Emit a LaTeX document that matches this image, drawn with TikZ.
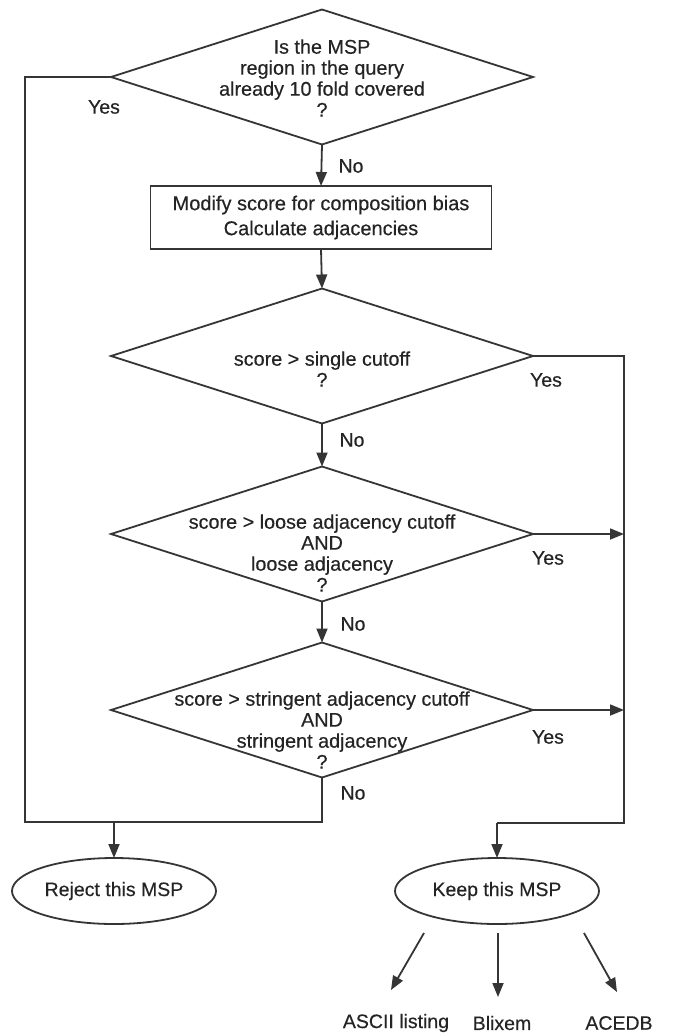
\documentclass[tikz,border=0pt]{standalone}
\usepackage{fontspec}
\setmainfont{Liberation Sans}
\newfontfamily\hvfont{Liberation Sans}[FakeBold=0.35]
\usetikzlibrary{shapes.geometric,arrows.meta}
\definecolor{ink}{HTML}{353535}
\definecolor{txtc}{HTML}{242424}
\begin{document}
\begin{tikzpicture}[x=1pt,y=-1pt,
  every node/.style={inner sep=0pt,outer sep=0pt},
  txt/.style={text=txtc,align=center,font=\hvfont\fontsize{19.8}{21}\selectfont},
  lbl/.style={text=txtc,font=\hvfont\fontsize{19.5}{21}\selectfont},
  dia/.style={draw=ink,line width=1.8pt,shape=diamond,minimum width=422pt,minimum height=135pt},
  boxst/.style={draw=ink,line width=1.8pt,rectangle,minimum width=341pt,minimum height=63pt,text=txtc,align=center,font=\hvfont\fontsize{20}{25}\selectfont},
  ell/.style={draw=ink,line width=1.8pt,ellipse,minimum width=204pt,minimum height=66pt,text=txtc,font=\hvfont\fontsize{19.5}{21}\selectfont},
  ln/.style={draw=ink,line width=1.8pt},
  arr/.style={draw=ink,line width=1.8pt,-{Triangle[length=14pt,width=11pt]}}]
\useasboundingbox (0,0) rectangle (672,1036);

% decisions
\node[dia] (d1) at (322,77) {};
\node[txt] (d1t) at (322,78) {Is the MSP\\region in the query\\already 10 fold covered\\?};
\node[boxst] (box) at (321,217.5) {Modify score for composition bias\\Calculate adjacencies};
\node[dia] (d2) at (322,356) {};
\node[txt] (d2t) at (322,369) {score > single cutoff\\?};
\node[dia] (d3) at (322,534) {};
\node[txt] (d3t) at (322,553) {score > loose adjacency cutoff\\AND\\loose adjacency\\?};
\node[dia] (d4) at (322,710) {};
\node[txt] (d4t) at (322,730) {score > stringent adjacency cutoff\\AND\\stringent adjacency\\?};

% terminals
\node[ell] (rej) at (114,891) {Reject this MSP};
\node[ell] (keep) at (497,891) {Keep this MSP};
\node[lbl] (ascii) at (396,1023) {ASCII listing};
\node[lbl] (blix) at (502,1023) {Blixem};
\node[lbl] (acedb) at (619,1023) {ACEDB};

% branch labels
\node[lbl] (y1) at (104,107) {Yes};
\node[lbl] (n1) at (351,166) {No};
\node[lbl] (y2) at (546,380) {Yes};
\node[lbl] (n2) at (352,440) {No};
\node[lbl] (y3) at (548,558) {Yes};
\node[lbl] (n3) at (353,624) {No};
\node[lbl] (y4) at (548,737) {Yes};
\node[lbl] (n4) at (353,793) {No};

% routing coordinates
\coordinate (lt) at (25,77);
\coordinate (lb) at (25,822);
\coordinate (rt) at (624,356);
\coordinate (rb) at (624,823);
\coordinate (rj) at (114,822);
\coordinate (kp) at (497,823);
\coordinate (a1s) at (424,933);
\coordinate (a1e) at (391,990);
\coordinate (a2s) at (498,933);
\coordinate (a2e) at (498,997);
\coordinate (a3s) at (584,933);
\coordinate (a3e) at (617,992);

% connectors
\draw[arr] (d1.south) -- (box.north);
\draw[arr] (box.south) -- (d2.north);
\draw[arr] (d2.south) -- (d3.north);
\draw[arr] (d3.south) -- (d4.north);

\draw[ln] (d1.west) -- (lt) -- (lb) -- (d4.south |- lb) -- (d4.south);
\draw[arr] (rj) -- (rej.north);

\draw[ln] (d2.east) -- (rt) -- (rb) -- (kp);
\draw[arr] (d3.east) -- (d3.east -| rt);
\draw[arr] (d4.east) -- (d4.east -| rt);
\draw[arr] (kp) -- (keep.north);

\draw[arr] (a1s) -- (a1e);
\draw[arr] (a2s) -- (a2e);
\draw[arr] (a3s) -- (a3e);
\end{tikzpicture}
\end{document}
